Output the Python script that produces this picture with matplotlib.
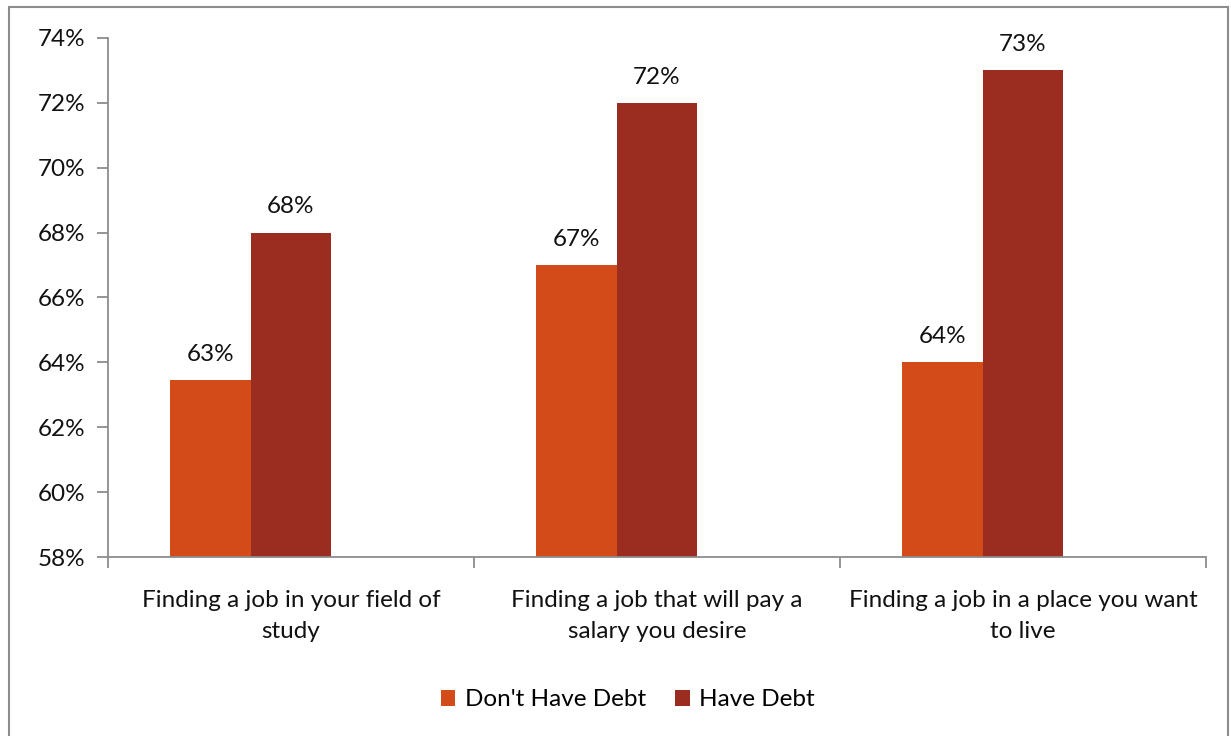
import numpy as np
import matplotlib.pyplot as plt
from matplotlib.patches import Rectangle
from matplotlib.ticker import FuncFormatter

plt.rcParams['font.family'] = ['Lato', 'DejaVu Sans']

categories = ["Finding a job in your field of\nstudy",
              "Finding a job that will pay a\nsalary you desire",
              "Finding a job in a place you want\nto live"]
no_debt = [63.45, 67.0, 64.0]
have_debt = [68.0, 72.0, 73.0]
series_names = ["Don't Have Debt", "Have Debt"]
colors = ["#D24B19", "#9B2D20"]

FS = 17.5

fig = plt.figure(figsize=(12.31, 7.36), dpi=100)
ax = fig.add_axes([0.0877, 0.2432, 0.8920, 0.7052])

x = np.arange(len(categories))
w = 0.22
b1 = ax.bar(x - w, np.array(no_debt) - 58, w, bottom=58, color=colors[0],
            label=series_names[0], edgecolor='none')
b2 = ax.bar(x, np.array(have_debt) - 58, w, bottom=58, color=colors[1],
            label=series_names[1], edgecolor='none')

for bars, vals in ((b1, no_debt), (b2, have_debt)):
    for rect, v in zip(bars, vals):
        ax.annotate(f"{v:.0f}%", (rect.get_x() + rect.get_width() / 2, v),
                    xytext=(0, 11), textcoords='offset points',
                    ha='center', va='bottom', fontsize=FS, color='#111111')

ax.set_xlim(-0.5, 2.5)
ax.set_ylim(58, 74)
ax.set_yticks(np.arange(58, 75, 2))
ax.yaxis.set_major_formatter(FuncFormatter(lambda v, p: f"{v:.0f}%"))

# category boundaries carry the tick marks, labels sit in between
ax.set_xticks([-0.5, 0.5, 1.5, 2.5])
ax.set_xticklabels([])
ax.set_xticks(x, minor=True)
ax.set_xticklabels(categories, minor=True, fontsize=FS, color='#111111',
                   linespacing=1.55)
ax.tick_params(axis='x', which='minor', length=0, pad=24)
ax.tick_params(axis='x', which='major', length=8, color='#8c8c8c', width=1.3)
ax.tick_params(axis='y', length=8, color='#8c8c8c', width=1.3, labelsize=FS,
               labelcolor='#111111', pad=8)

for side in ('top', 'right'):
    ax.spines[side].set_visible(False)
for side in ('left', 'bottom'):
    ax.spines[side].set_color('#8c8c8c')
    ax.spines[side].set_linewidth(1.3)

fig.legend(loc='center', bbox_to_anchor=(0.51, 0.049), ncol=2, frameon=False,
           fontsize=FS, handlelength=0.6, handleheight=0.6, handletextpad=0.4,
           columnspacing=1.2)

# outer chart frame
fig.patches.append(Rectangle((9 / 1231, -0.01), 1219 / 1231, 1 - 7 / 736 + 0.01,
                             transform=fig.transFigure, fill=False,
                             edgecolor='#8c8c8c', linewidth=1.5))

fig.savefig('out.png', dpi=100)
